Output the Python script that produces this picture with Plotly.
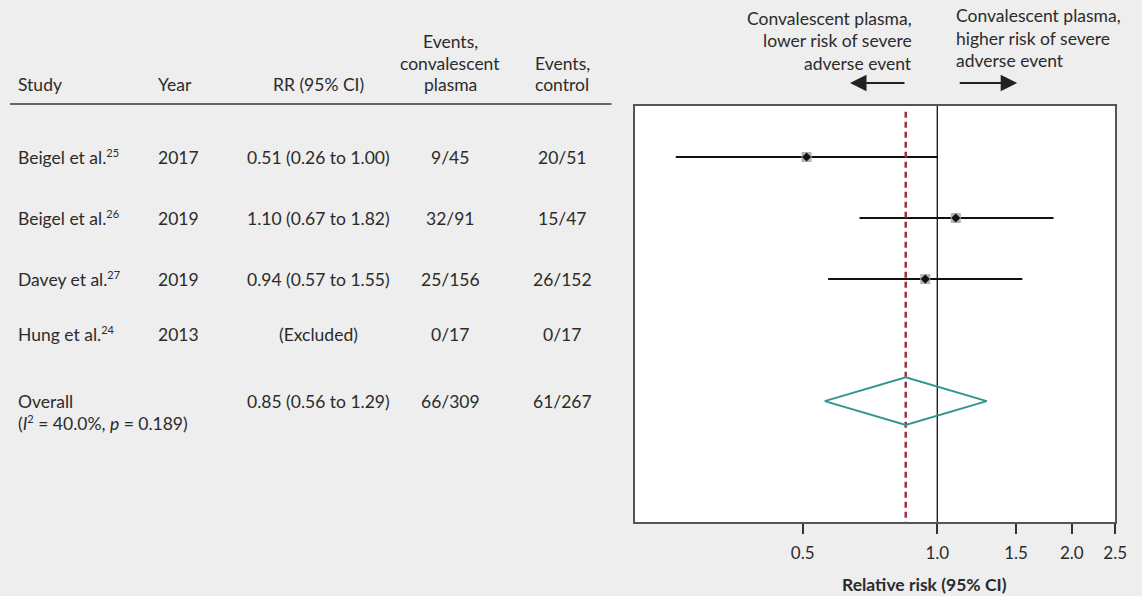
import plotly.graph_objects as go
import math

# ---------------- data ----------------
study_names = ["Beigel et al.", "Beigel et al.", "Davey et al.", "Hung et al.", "Overall"]
study_refs = ["25", "26", "27", "24", ""]
years = ["2017", "2019", "2019", "2013", ""]
rr = [0.51, 1.10, 0.94, None, 0.85]
rr_lo = [0.26, 0.67, 0.57, None, 0.56]
rr_hi = [1.00, 1.82, 1.55, None, 1.29]
events_cp = ["9/45", "32/91", "25/156", "0/17", "66/309"]
events_ctrl = ["20/51", "15/47", "26/152", "0/17", "61/267"]
heterogeneity = "(<i>I</i><sup><span style='font-size:11px'>2</span></sup> = 40.0%, <i>p</i> = 0.189)"
tick_vals = [0.5, 1.0, 1.5, 2.0, 2.5]
tick_text = ["0.5", "1.0", "1.5", "2.0", "2.5"]

# ---------------- layout helpers ----------------
W, H = 1142, 596
row_pos = [1, 2, 3, 3.9, 5]          # vertical slot of each row (axis units)
y_top, y_bot = 0.164, 6.98
x_min, x_max = 0.211, 2.5
FONT = "Lato, 'Source Sans Pro', sans-serif"
TXT = "#2b2b2b"
FS = 17.5

def px(x):
    return x / W

def py(y):
    return 1 - y / H

fig = go.Figure()

# study CIs and point estimates (individual studies)
for i in range(4):
    if rr[i] is None:
        continue
    fig.add_trace(go.Scatter(x=[rr_lo[i], rr_hi[i]], y=[row_pos[i], row_pos[i]], mode="lines",
                             line=dict(color="#111111", width=2), showlegend=False, hoverinfo="skip"))
    fig.add_trace(go.Scatter(x=[rr[i]], y=[row_pos[i]], mode="markers",
                             marker=dict(symbol="square", size=10, color="#b3b3b3"),
                             showlegend=False, hoverinfo="skip"))
    fig.add_trace(go.Scatter(x=[rr[i]], y=[row_pos[i]], mode="markers",
                             marker=dict(symbol="diamond", size=7, color="#111111"),
                             showlegend=False, hoverinfo="skip"))

# null line at 1.0
fig.add_trace(go.Scatter(x=[1.0, 1.0], y=[y_top, y_bot], mode="lines",
                         line=dict(color="#111111", width=1.3), showlegend=False, hoverinfo="skip"))

# overall effect dashed line
fig.add_trace(go.Scatter(x=[rr[4], rr[4]], y=[0.26, y_bot], mode="lines",
                         line=dict(color="#a3303c", width=2.5, dash="6px,4px"),
                         showlegend=False, hoverinfo="skip"))

# overall diamond
hh = 0.39
yo = row_pos[4]
fig.add_trace(go.Scatter(x=[rr_lo[4], rr[4], rr_hi[4], rr[4], rr_lo[4]],
                         y=[yo, yo - hh, yo, yo + hh, yo], mode="lines",
                         line=dict(color="#2e968c", width=2), showlegend=False, hoverinfo="skip"))

ann = []
# table headers
col_x = {"study": 16, "year": 158, "rr": 322, "cp": 455, "ctrl": 568}
headers = [
    (col_x["study"], "left", ["Study"]),
    (col_x["year"], "left", ["Year"]),
    (col_x["rr"], "center", ["RR (95% CI)"]),
    (col_x["cp"], "center", ["Events,", "convalescent", "plasma"]),
    (col_x["ctrl"], "center", ["Events,", "control"]),
]
for x, al, lines in headers:
    n = len(lines)
    for k, t in enumerate(lines):
        yp = 85 - 22 * (n - 1 - k)
        ann.append(dict(x=px(x), y=py(yp), xref="paper", yref="paper", text=t, showarrow=False,
                        xanchor=al, yanchor="middle", font=dict(size=FS, color=TXT, family=FONT)))

def rr_text(i):
    if rr[i] is None:
        return "(Excluded)"
    return f"{rr[i]:.2f} ({rr_lo[i]:.2f} to {rr_hi[i]:.2f})"

def study_text(i):
    if study_refs[i]:
        return f"{study_names[i]}<sup><span style='font-size:11px'>{study_refs[i]}</span></sup>"
    return study_names[i]

for i in range(len(study_names)):
    yv = row_pos[i]
    cells = [(col_x["study"], "left", study_text(i)), (col_x["year"], "left", years[i]),
             (col_x["rr"], "center", rr_text(i)), (col_x["cp"], "center", events_cp[i]),
             (col_x["ctrl"], "center", events_ctrl[i])]
    for x, al, t in cells:
        if not t:
            continue
        ann.append(dict(x=px(x), y=yv, xref="paper", yref="y", text=t, showarrow=False,
                        xanchor=al, yanchor="middle", font=dict(size=FS, color=TXT, family=FONT)))
ann.append(dict(x=px(col_x["study"]), y=row_pos[4] + 0.36, xref="paper", yref="y", text=heterogeneity,
                showarrow=False, xanchor="left", yanchor="middle",
                font=dict(size=FS, color=TXT, family=FONT)))

# direction labels
left_lines = ["Convalescent plasma,", "lower risk of severe", "adverse event"]
right_lines = ["Convalescent plasma,", "higher risk of severe", "adverse event"]
for k, t in enumerate(left_lines):
    ann.append(dict(x=px(924), y=py(18 + 22.5 * k), xref="paper", yref="paper", text=t, showarrow=False,
                    xanchor="right", yanchor="middle", font=dict(size=FS, color=TXT, family=FONT)))
for k, t in enumerate(right_lines):
    ann.append(dict(x=px(964), y=py(16 + 22.5 * k), xref="paper", yref="paper", text=t, showarrow=False,
                    xanchor="left", yanchor="middle", font=dict(size=FS, color=TXT, family=FONT)))
# arrows
ann.append(dict(x=px(859), y=py(83), xref="paper", yref="paper", ax=56, ay=0, text="",
                showarrow=True, arrowhead=2, arrowsize=1.5, arrowwidth=2.2, arrowcolor="#222222"))
ann.append(dict(x=px(1028), y=py(83), xref="paper", yref="paper", ax=-59, ay=0, text="",
                showarrow=True, arrowhead=2, arrowsize=1.5, arrowwidth=2.2, arrowcolor="#222222"))

# axis title
ann.append(dict(x=px(934), y=py(584), xref="paper", yref="paper", text="<b>Relative risk (95% CI)</b>",
                showarrow=False, xanchor="center", yanchor="middle",
                font=dict(size=FS, color=TXT, family=FONT)))

fig.update_layout(
    width=W, height=H, margin=dict(l=0, r=0, t=0, b=0),
    paper_bgcolor="#eeeeee", plot_bgcolor="#ffffff",
    annotations=ann, hovermode=False,
    shapes=[dict(type="line", xref="paper", yref="paper", x0=px(10), x1=px(618), y0=py(104), y1=py(104),
                 line=dict(color="#666666", width=2))],
    xaxis=dict(type="log", domain=[px(642), px(1127)], range=[math.log10(x_min), math.log10(x_max)],
               showgrid=False, zeroline=False, showline=True, mirror=True, linecolor="#555555",
               linewidth=1.5, ticks="outside", ticklen=10, tickwidth=1.5, tickcolor="#333333",
               tickvals=tick_vals, ticktext=tick_text, ticklabelstandoff=5,
               tickfont=dict(size=17, color=TXT, family=FONT)),
    yaxis=dict(domain=[py(522), py(106)], range=[y_bot, y_top], showgrid=False, zeroline=False,
               showline=True, mirror=True, linecolor="#555555", linewidth=1.5, showticklabels=False,
               ticks=""),
)

fig.write_html("out.html", config={"displayModeBar": False},
               post_script=("document.documentElement.style.overflow='hidden';"
                            "document.body.style.overflow='hidden';"
                            "document.body.style.margin='0';"))
